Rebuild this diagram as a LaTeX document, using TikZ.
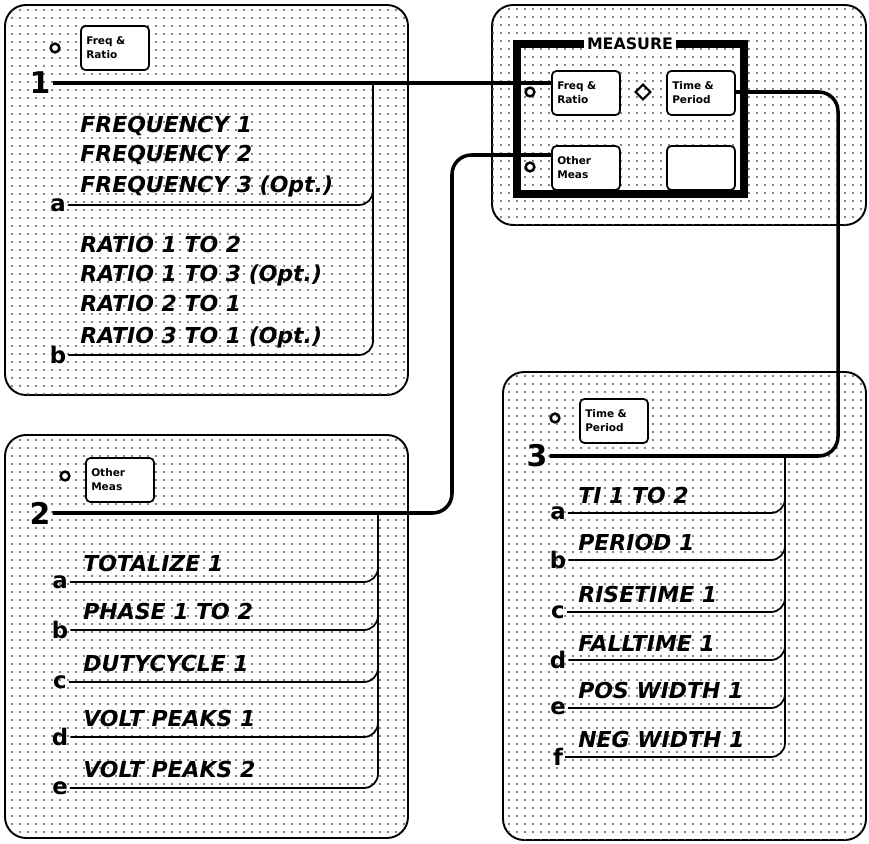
\documentclass[tikz,border=0pt]{standalone}
\usepackage{fontspec}
\setmainfont{DejaVu Sans}[BoldFont={DejaVu Sans Bold},ItalicFont={DejaVu Sans Oblique},BoldItalicFont={DejaVu Sans Bold Oblique}]
\usetikzlibrary{patterns,shapes.geometric}

\pgfdeclarepatternformonly{stipple}{\pgfqpoint{0pt}{0pt}}{\pgfqpoint{4.8pt}{4.8pt}}{\pgfqpoint{4.8pt}{4.8pt}}%
  {\pgfpathcircle{\pgfqpoint{2.4pt}{2.4pt}}{0.7pt}\pgfusepath{fill}}

\tikzset{
  panel/.style={draw, line width=1.1pt, rounded corners=12pt, fill=white,
    postaction={pattern=stipple, pattern color=black!65}},
  key/.style={draw, line width=1pt, rounded corners=2.5pt, fill=white,
    minimum width=1.36cm, minimum height=0.88cm, text width=1.15cm, align=left,
    inner sep=1pt, font=\fontsize{6}{8}\selectfont\bfseries},
  conn/.style={line width=2pt, rounded corners=11pt},
  branch/.style={line width=1pt, rounded corners=8pt},
  entry/.style={anchor=west, inner sep=0pt, font=\fontsize{12.5}{14}\selectfont\bfseries\itshape},
  tag/.style={inner sep=1pt, font=\fontsize{13}{13}\selectfont\bfseries},
  num/.style={inner sep=1pt, font=\fontsize{17}{17}\selectfont\bfseries},
  ring/.style={draw, circle, line width=1.4pt, inner sep=0pt, minimum size=5pt},
}

\begin{document}
\begin{tikzpicture}[x=0.02cm,y=-0.02cm]
  \useasboundingbox (0,0) rectangle (869,844);
  \fill[white] (0,0) rectangle (869,844);

  % panels
  \draw[panel] (5,5) rectangle (408,395);
  \draw[panel] (492,5) rectangle (866,225);
  \draw[panel] (5,435) rectangle (408,838);
  \draw[panel] (503,372) rectangle (866,840);

  % MEASURE menu
  \draw[line width=4pt] (517,44) rectangle (744,194);
  \node[fill=white, inner sep=1.5pt, font=\fontsize{9}{9}\selectfont\bfseries] (mtitle) at (630,44) {MEASURE};
  \node[key] (fr) at (586,93) {Freq \&\\Ratio};
  \node[key] (tp) at (701,93) {Time \&\\Period};
  \node[key] (om) at (586,168) {Other\\Meas};
  \node[key] (blank) at (701,168) {};
  \node[ring] (mr1) at (530,92) {};
  \node[ring] (mr2) at (530,167) {};
  \node[draw, diamond, line width=1.2pt, inner sep=0pt, minimum size=9pt] (md) at (643,92) {};

  % panel 1
  \node[ring] (r1) at (55,48) {};
  \node[key] (k1) at (115,48) {Freq \&\\Ratio};
  \node[num] (one) at (40,83) {1};
  \node[entry] at (80,126) {FREQUENCY 1};
  \node[entry] at (80,155) {FREQUENCY 2};
  \node[entry] at (80,186) {FREQUENCY 3 (Opt.)};
  \node[entry] at (80,245) {RATIO 1 TO 2};
  \node[entry] at (80,275) {RATIO 1 TO 3 (Opt.)};
  \node[entry] at (80,304) {RATIO 2 TO 1};
  \node[entry] at (80,337) {RATIO 3 TO 1 (Opt.)};
  \node[tag] (pa) at (58,205) {a};
  \node[tag] (pb) at (58,355) {b};
  \coordinate (s1) at (373,83);
  \draw[branch] (s1) |- (pa.east);
  \draw[branch] (s1) |- (pb.east);

  % panel 2
  \node[ring] (r2) at (65,476) {};
  \node[key] (k2) at (120,480) {Other\\Meas};
  \node[num] (two) at (40,513) {2};
  \coordinate (s2) at (378,513);
  \foreach \l/\y/\txt in {a/582/TOTALIZE 1,b/630/PHASE 1 TO 2,c/682/DUTYCYCLE 1,d/737/VOLT PEAKS 1,e/788/VOLT PEAKS 2}{
    \node[tag] (q\l) at (60,\y) {\l};
    \node[entry] (qt\l) at (83,\y-18) {\txt};
    \draw[branch] (s2) |- (q\l.east);
  }

  % panel 3
  \node[ring] (r3) at (555,418) {};
  \node[key] (k3) at (614,421) {Time \&\\Period};
  \node[num] (three) at (537,456) {3};
  \coordinate (s3) at (785,456);
  \foreach \l/\y/\txt in {a/513/TI 1 TO 2,b/560/PERIOD 1,c/612/RISETIME 1,d/660/FALLTIME 1,e/708/POS WIDTH 1,f/757/NEG WIDTH 1}{
    \node[tag] (t\l) at (558,\y) {\l};
    \node[entry] (tt\l) at (578,\y-17) {\txt};
    \draw[branch] (s3) |- (t\l.east);
  }

  % connectors
  \draw[conn] (one.east) -- (one.east -| fr.west);
  \coordinate (c2) at (452,155);
  \draw[conn] (two.east) -| (c2) -- (c2 -| om.west);
  \coordinate (c3) at (838,92);
  \draw[conn] (tp.east |- c3) -- (c3) |- (three.east);
\end{tikzpicture}
\end{document}
